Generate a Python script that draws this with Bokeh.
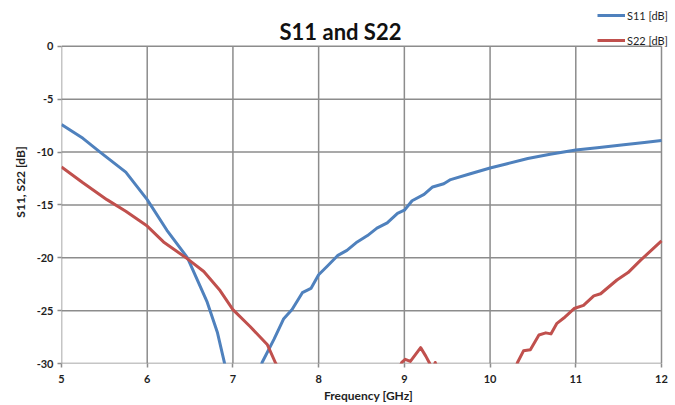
from bokeh.plotting import figure
from bokeh.models import Range1d, Legend, LegendItem, FixedTicker, Label
from bokeh.embed import file_html
from bokeh.resources import INLINE

# S11 reflection coefficient vs frequency
s11_freq = [5.0, 5.25, 5.45, 5.75, 6.0, 6.23, 6.47, 6.7, 6.82, 6.9, 7.0, 7.1, 7.2, 7.3,
            7.34, 7.48, 7.59, 7.69, 7.81, 7.91, 8.0, 8.1, 8.22, 8.33, 8.45, 8.57, 8.68,
            8.8, 8.92, 9.0, 9.09, 9.23, 9.33, 9.46, 9.54, 9.75, 10.0, 10.2, 10.44, 10.7,
            11.0, 11.25, 11.56, 11.8, 12.0]
s11_db = [-7.4, -8.7, -10.0, -11.9, -14.5, -17.4, -20.0, -24.2, -27.1, -29.9, -34.0, -38.0,
          -36.0, -31.5, -29.9, -27.7, -25.8, -24.9, -23.3, -22.9, -21.6, -20.8, -19.8, -19.3,
          -18.5, -17.9, -17.2, -16.7, -15.8, -15.5, -14.6, -14.0, -13.3, -13.0, -12.6, -12.1,
          -11.5, -11.1, -10.6, -10.2, -9.8, -9.6, -9.3, -9.1, -8.9]

# S22 reflection coefficient vs frequency
s22_freq = [5.0, 5.25, 5.53, 5.75, 6.0, 6.19, 6.47, 6.66, 6.85, 7.0, 7.2, 7.4, 7.5, 7.7,
            8.0, 8.3, 8.6, 8.85, 8.97, 9.01, 9.07, 9.19, 9.25, 9.29, 9.33, 9.36, 9.4, 9.7,
            10.0, 10.2, 10.32, 10.39, 10.47, 10.57, 10.65, 10.71, 10.78, 10.86, 10.98, 11.09,
            11.21, 11.29, 11.48, 11.61, 11.76, 12.0]
s22_db = [-11.4, -12.9, -14.5, -15.6, -17.0, -18.5, -20.1, -21.3, -23.1, -24.9, -26.5, -28.2,
          -30.0, -33.0, -37.0, -39.0, -36.0, -32.0, -29.9, -29.6, -29.8, -28.5, -29.3, -29.9,
          -30.6, -29.9, -30.8, -34.0, -36.0, -33.0, -29.9, -28.8, -28.7, -27.3, -27.1, -27.2,
          -26.2, -25.7, -24.8, -24.5, -23.6, -23.4, -22.1, -21.4, -20.2, -18.4]

series_names = ["S11 [dB]", "S22 [dB]"]
series_colors = ["#4F81BD", "#C0504D"]
x_ticks = [5, 6, 7, 8, 9, 10, 11, 12]
y_ticks = [0, -5, -10, -15, -20, -25, -30]
y_tick_labels = ["0", "-5", "-10", "-15", "-20", "-25", "-30"]

FONT = "Lato"
GRID = "#8c8c8c"
TEXT = "#1f1f1f"

W, H = 675, 405
LEFT, RIGHT, TOP, BOTTOM = 61, 661, 46, 364   # plot-area edges in pixels

# The frame spans the whole area right of / above the axes so that the title and
# the legend (which sit above and right of the chart area) are not clipped.
x_min, x_max = x_ticks[0], x_ticks[-1]
y_min, y_max = y_ticks[-1], y_ticks[0]
px_x = (RIGHT - LEFT) / (x_max - x_min)
px_y = (BOTTOM - TOP) / (y_max - y_min)
x_range = Range1d(x_min, x_max + (W - RIGHT) / px_x)
y_range = Range1d(y_min, y_max + TOP / px_y)

p = figure(width=W, height=H, output_backend="svg", toolbar_location=None,
           x_range=x_range, y_range=y_range,
           min_border_left=LEFT, min_border_right=0, min_border_top=0,
           min_border_bottom=H - BOTTOM)
p.outline_line_color = None
p.grid.visible = False

# grid and chart border, limited to the chart area
p.segment(x0=x_ticks, x1=x_ticks, y0=[y_min] * len(x_ticks), y1=[y_max] * len(x_ticks),
          line_color=GRID, line_width=1.5)
p.segment(x0=[x_min] * len(y_ticks), x1=[x_max] * len(y_ticks), y0=y_ticks, y1=y_ticks,
          line_color=GRID, line_width=1.5)

p.xaxis.ticker = FixedTicker(ticks=x_ticks)
p.yaxis.ticker = FixedTicker(ticks=y_ticks)
p.yaxis.major_label_overrides = dict(zip(y_ticks, y_tick_labels))

for ax in (p.xaxis, p.yaxis):
    ax.axis_line_color = None
    ax.major_tick_line_color = GRID
    ax.major_tick_line_width = 1.5
    ax.major_tick_in = 0
    ax.major_tick_out = 4
    ax.minor_tick_line_color = None
    ax.major_label_text_font = FONT
    ax.major_label_text_font_style = "bold"
    ax.major_label_text_font_size = "11px"
    ax.major_label_text_color = TEXT
    ax.axis_label_text_font = FONT
    ax.axis_label_text_font_style = "bold"
    ax.axis_label_text_font_size = "12px"
    ax.axis_label_text_color = TEXT

p.xaxis.axis_label = "Frequency [GHz]"
p.xaxis.major_label_standoff = 7
p.xaxis.axis_label_standoff = 2
p.yaxis.axis_label = "S11, S22 [dB]"
p.yaxis.major_label_standoff = 4
p.yaxis.axis_label_standoff = 6

r11 = p.line(s11_freq, s11_db, line_color=series_colors[0], line_width=3, line_join="round")
r22 = p.line(s22_freq, s22_db, line_color=series_colors[1], line_width=3, line_join="round")

# title, centred on the page
p.add_layout(Label(x=340 - LEFT, y=BOTTOM - 32, x_units="screen", y_units="screen",
                   text="S11 and S22", text_font=FONT, text_font_size="22px",
                   text_font_style="bold", text_color="#111111",
                   text_align="center", text_baseline="middle"))

legend = Legend(items=[LegendItem(label=n, renderers=[r])
                       for n, r in zip(series_names, [r11, r22])],
                location=(597 - LEFT, BOTTOM - 48), orientation="vertical",
                padding=0, spacing=11, margin=0,
                glyph_width=28, glyph_height=14, label_height=14, label_standoff=2,
                label_text_font=FONT, label_text_font_size="11px", label_text_color=TEXT,
                background_fill_alpha=0, border_line_color=None)
p.add_layout(legend, "center")

open("out.html", "w").write(file_html(p, INLINE))
